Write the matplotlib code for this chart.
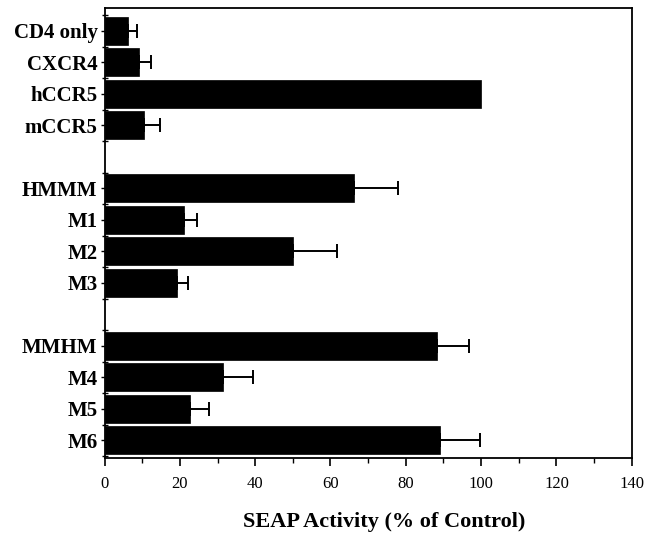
import matplotlib
matplotlib.use("Agg")
import matplotlib.pyplot as plt
import numpy as np

labels = ["CD4 only", "CXCR4", "hCCR5", "mCCR5",
          "HMMM", "M1", "M2", "M3",
          "MMHM", "M4", "M5", "M6"]
values = [6.3, 9.2, 100.0, 10.5,
          66.2, 21.2, 50.1, 19.3,
          88.2, 31.4, 22.7, 89.0]
errors = [2.2, 3.1, 0.0, 4.1,
          11.8, 3.3, 11.6, 2.8,
          8.6, 7.9, 5.1, 10.7]
positions = [0, 1, 2, 3, 5, 6, 7, 8, 10, 11, 12, 13]
xticks = [0, 20, 40, 60, 80, 100, 120, 140]

plt.rcParams['font.family'] = ['Liberation Serif', 'DejaVu Serif']

fig = plt.figure(figsize=(6.46, 5.33), dpi=100)
ax = fig.add_axes([0.1618, 0.1407, 0.978 - 0.1618, 0.985 - 0.1407])

lower = np.zeros(len(errors))
ax.barh(positions, values, height=0.89, color='black', edgecolor='black', linewidth=0.5)
mask = np.array([e > 0 for e in errors])
ax.errorbar(np.array(values)[mask], np.array(positions)[mask],
            xerr=[lower[mask], np.array(errors)[mask]],
            fmt='none', ecolor='black', elinewidth=1.4, capsize=5, capthick=1.4)

ax.set_xlim(0, 140)
ax.set_ylim(13.56, -0.73)
ax.set_xticks(xticks)
ax.set_xticks(np.arange(10, 140, 20), minor=True)
ax.set_xticklabels([str(t) for t in xticks], fontsize=12)
ax.set_yticks(positions)
ax.set_yticklabels(labels, fontsize=15, fontweight='bold')
ax.set_yticks(np.arange(-0.5, 13.6, 1.0), minor=True)

ax.tick_params(axis='x', which='major', direction='out', length=6, width=1.2, pad=7)
ax.tick_params(axis='x', which='minor', direction='out', length=3.5, width=1.0)
ax.tick_params(axis='y', which='major', direction='out', length=3, width=1.0, pad=2)
ax.tick_params(axis='y', which='minor', direction='inout', length=4, width=1.0)

for s in ax.spines.values():
    s.set_linewidth(1.3)

ax.set_xlabel("SEAP Activity (% of Control)", fontsize=16, fontweight='bold')
ax.xaxis.set_label_coords(0.53, -0.142)
ax.xaxis.label.set_va('center')

fig.savefig("out.png", dpi=100)
